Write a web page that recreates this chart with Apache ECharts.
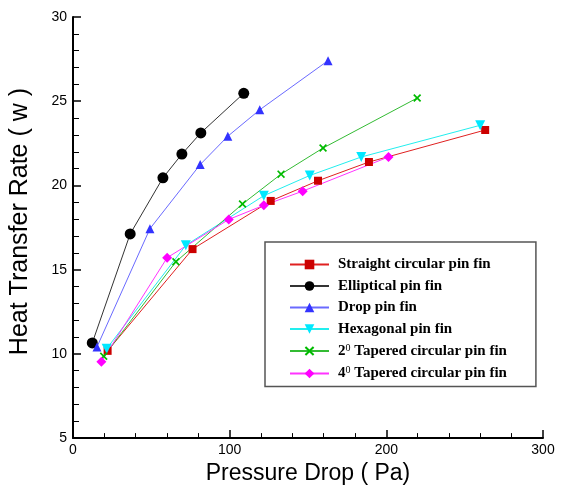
<!DOCTYPE html>
<html>
<head>
<meta charset="utf-8">
<script src="https://cdn.jsdelivr.net/npm/echarts@6/dist/echarts.min.js"></script>
<style>html,body{margin:0;padding:0;background:#fff;}#c{width:561px;height:490px;}</style>
</head>
<body>
<div id="c"></div>
<script>
// ---- data (Pressure Drop in Pa, Heat Transfer Rate in W) ----
var seriesNames = [
  'Straight circular pin fin',
  'Elliptical pin fin',
  'Drop pin fin',
  'Hexagonal pin fin',
  '2^0 Tapered circular pin fin',
  '4^0 Tapered circular pin fin'
];
var straightX = [22.1, 76.3, 126.2, 156.4, 188.9, 263.1];
var straightY = [10.18, 16.22, 19.08, 20.28, 21.39, 23.29];
var ellipticalX = [12.3, 36.5, 57.4, 69.5, 81.6, 109.0];
var ellipticalY = [10.65, 17.12, 20.45, 21.86, 23.12, 25.47];
var dropX = [15.3, 49.1, 81.2, 98.8, 119.2, 162.8];
var dropY = [10.41, 17.43, 21.24, 22.92, 24.49, 27.41];
var hexX = [21.5, 72.0, 121.8, 151.1, 184.0, 259.9];
var hexY = [10.31, 16.45, 19.39, 20.59, 21.69, 23.57];
var taper2X = [19.6, 65.7, 108.2, 132.8, 159.6, 219.7];
var taper2Y = [9.86, 15.47, 18.90, 20.67, 22.22, 25.19];
var taper4X = [18.1, 60.1, 99.4, 121.8, 146.6, 201.4];
var taper4Y = [9.53, 15.71, 17.98, 18.82, 19.66, 21.69];
var xTicks = [0, 100, 200, 300];
var yTicks = [5, 10, 15, 20, 25, 30];

function pairs(xs, ys) { return xs.map(function (x, i) { return [x, ys[i]]; }); }

var xSym = 'path://M0,1.5L1.5,0L5,3.5L8.5,0L10,1.5L6.5,5L10,8.5L8.5,10L5,6.5L1.5,10L0,8.5L3.5,5Z';

var styles = [
  {line: '#e02020', sym: 'rect', size: 8, fill: '#cc0000', rot: 0},
  {line: '#333333', sym: 'circle', size: 11, fill: '#000000', rot: 0},
  {line: '#6a6aff', sym: 'triangle', size: 9, fill: '#3333ff', rot: 0},
  {line: '#22eeee', sym: 'triangle', size: 10, fill: '#00e8ff', rot: 180},
  {line: '#33bb33', sym: xSym, size: 8, fill: '#00bb00', rot: 0},
  {line: '#ff33ff', sym: 'diamond', size: [10, 10], fill: '#ff00ff', rot: 0}
];
var dataSets = [
  pairs(straightX, straightY), pairs(ellipticalX, ellipticalY), pairs(dropX, dropY),
  pairs(hexX, hexY), pairs(taper2X, taper2Y), pairs(taper4X, taper4Y)
];

var series = seriesNames.map(function (n, i) {
  var s = styles[i];
  return {
    name: n, type: 'line', data: dataSets[i],
    symbol: s.sym, symbolSize: s.size, symbolRotate: s.rot,
    showAllSymbol: true, animation: false,
    lineStyle: {color: s.line, width: 1},
    itemStyle: {color: s.fill, borderWidth: 0}
  };
});

var chart = echarts.init(document.getElementById('c'), null, {renderer: 'canvas'});
chart.setOption({
  backgroundColor: '#ffffff',
  animation: false,
  grid: {left: 73, top: 17, right: 18, bottom: 47, containLabel: false},
  xAxis: {
    type: 'value', min: xTicks[0], max: xTicks[xTicks.length - 1], interval: 100,
    name: 'Pressure Drop ( Pa)', nameLocation: 'middle', nameGap: 21,
    nameTextStyle: {fontFamily: 'Liberation Sans', fontSize: 23, color: '#000'},
    axisLine: {lineStyle: {color: '#000', width: 2}},
    axisTick: {inside: true, length: 8, lineStyle: {color: '#000', width: 1.5}},
    minorTick: {show: true, splitNumber: 5, length: 5, lineStyle: {color: '#000', width: 1}},
    axisLabel: {fontFamily: 'Liberation Sans', fontSize: 14, color: '#000', margin: 5},
    splitLine: {show: false}
  },
  yAxis: {
    type: 'value', min: yTicks[0], max: yTicks[yTicks.length - 1], interval: 5,
    name: 'Heat Transfer Rate ( w )', nameLocation: 'middle', nameGap: 40,
    nameTextStyle: {fontFamily: 'Liberation Sans', fontSize: 25, color: '#000', padding: [0, 0, 0, 12]},
    axisLine: {lineStyle: {color: '#000', width: 2}},
    axisTick: {inside: true, length: 8, lineStyle: {color: '#000', width: 1.5}},
    minorTick: {show: true, splitNumber: 5, length: 6, lineStyle: {color: '#000', width: 1}},
    axisLabel: {fontFamily: 'Liberation Sans', fontSize: 14, color: '#000', margin: 6},
    splitLine: {show: false}
  },
  legend: {
    orient: 'vertical', left: 265, top: 242,
    padding: [15, 29, 5, 24],
    itemWidth: 39, itemHeight: 12, itemGap: 6.5,
    backgroundColor: '#fff', borderColor: '#555', borderWidth: 1.5,
    data: seriesNames,
    formatter: function (name) {
      var m = name.match(/^(\d)\^0 (.*)$/);
      if (m) return '{a|' + m[1] + '}{s|0}{a| ' + m[2] + '}';
      return '{a|' + name + '}';
    },
    textStyle: {
      padding: [0, 0, 0, 4],
      rich: {
        a: {fontFamily: 'Liberation Serif', fontSize: 15, fontWeight: 'bold', color: '#000', lineHeight: 16},
        s: {fontFamily: 'Liberation Serif', fontSize: 10, color: '#000', lineHeight: 16, verticalAlign: 'top', padding: [0, 0, 6, 0]}
      }
    }
  },
  series: series
});
</script>
</body>
</html>
